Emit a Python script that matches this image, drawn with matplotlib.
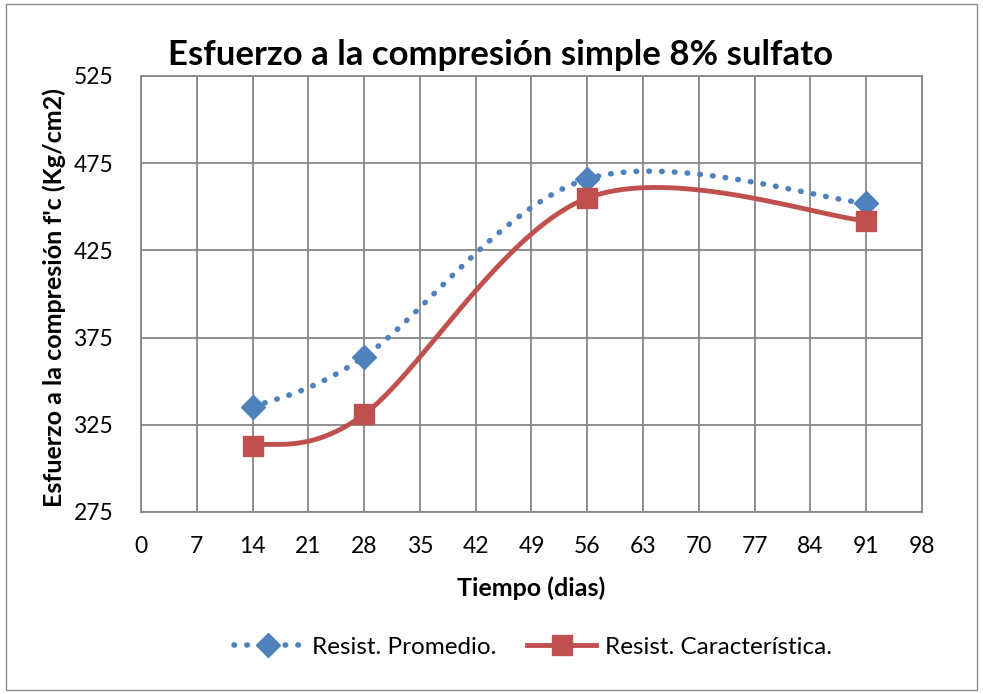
import numpy as np
import matplotlib
matplotlib.use("Agg")
import matplotlib.pyplot as plt
from matplotlib.patches import Rectangle

# data
dias = [14, 28, 56, 91]
promedio = [335, 364, 466, 452]
caracteristica = [313, 331, 455, 442]
xticks = list(range(0, 99, 7))
yticks = [275, 325, 375, 425, 475, 525]


def smooth(x, y, n=40):
    # Excel-like smoothed line (Catmull-Rom as cubic Bezier)
    x = np.asarray(x, float)
    y = np.asarray(y, float)
    px, py = [], []
    for i in range(len(x) - 1):
        x0, y0 = (x[i - 1], y[i - 1]) if i > 0 else (x[i], y[i])
        x3, y3 = (x[i + 2], y[i + 2]) if i + 2 < len(x) else (x[i + 1], y[i + 1])
        c1x = x[i] + (x[i + 1] - x0) / 6
        c1y = y[i] + (y[i + 1] - y0) / 6
        c2x = x[i + 1] - (x3 - x[i]) / 6
        c2y = y[i + 1] - (y3 - y[i]) / 6
        t = np.linspace(0, 1, n)
        bx = (1 - t) ** 3 * x[i] + 3 * (1 - t) ** 2 * t * c1x + 3 * (1 - t) * t ** 2 * c2x + t ** 3 * x[i + 1]
        by = (1 - t) ** 3 * y[i] + 3 * (1 - t) ** 2 * t * c1y + 3 * (1 - t) * t ** 2 * c2y + t ** 3 * y[i + 1]
        px.extend(bx)
        py.extend(by)
    return px, py


plt.rcParams["font.family"] = ["Lato", "DejaVu Sans"]

blue = "#4F81BD"
red = "#C0504D"
grid = "#878787"

W, H = 983, 694
fig = plt.figure(figsize=(W / 100, H / 100), dpi=100)
fig.patches.append(Rectangle((0.006, 0.006), 0.988, 0.988, transform=fig.transFigure,
                             fill=False, edgecolor="#8c8c8c", linewidth=1))
ax = fig.add_axes([141 / W, 1 - 512 / H, (922 - 141) / W, (512 - 76) / H])

sx, sy = smooth(dias, promedio)
ax.plot(sx, sy, color=blue, linestyle=(0, (0.1, 2.2)), linewidth=4, dash_capstyle="round", zorder=3)
ax.plot(dias, promedio, linestyle="none", marker="D", markersize=12.5, color=blue, zorder=4)

sx, sy = smooth(dias, caracteristica)
ax.plot(sx, sy, color=red, linewidth=3.5, solid_capstyle="round", zorder=3)
ax.plot(dias, caracteristica, linestyle="none", marker="s", markersize=14, color=red, zorder=4)

# legend proxies
ax.plot([], [], color=blue, linestyle=(0, (0.1, 2.2)), linewidth=4, dash_capstyle="round",
        marker="D", markersize=12.5, label="Resist. Promedio.")
ax.plot([], [], color=red, linewidth=3.5, marker="s", markersize=14, label="Resist. Característica.")

ax.set_xlim(0, 98)
ax.set_ylim(275, 525)
ax.set_xticks(xticks)
ax.set_yticks(yticks)
ax.tick_params(length=0, labelsize=16.5, colors="black")
ax.tick_params(axis="y", pad=20)
ax.tick_params(axis="x", pad=17)
ax.grid(True, color=grid, linewidth=1.3)
ax.set_axisbelow(True)
for s in ax.spines.values():
    s.set_color(grid)
    s.set_linewidth(1.3)

fig.text(501 / W, 1 - 55 / H, "Esfuerzo a la compresión simple 8% sulfato", ha="center", va="center",
         fontsize=25, fontweight="bold")
ax.set_xlabel("Tiempo (dias)", fontsize=18, fontweight="bold")
ax.set_ylabel("Esfuerzo a la compresión f'c (Kg/cm2)", fontsize=18, fontweight="bold")
ax.xaxis.set_label_coords((531 - 141) / (922 - 141), -(588 - 512) / (512 - 76))
ax.yaxis.set_label_coords(-(141 - 54) / (922 - 141), (512 - 298) / (512 - 76))
ax.xaxis.label.set_va("center")
ax.yaxis.label.set_va("center")

fig.legend(loc="center", bbox_to_anchor=(533 / W, 1 - 647 / H), ncol=2, frameon=False, fontsize=17.5,
           handlelength=2.8, columnspacing=1.3, handletextpad=0.4)

fig.savefig("out.png", dpi=100)
